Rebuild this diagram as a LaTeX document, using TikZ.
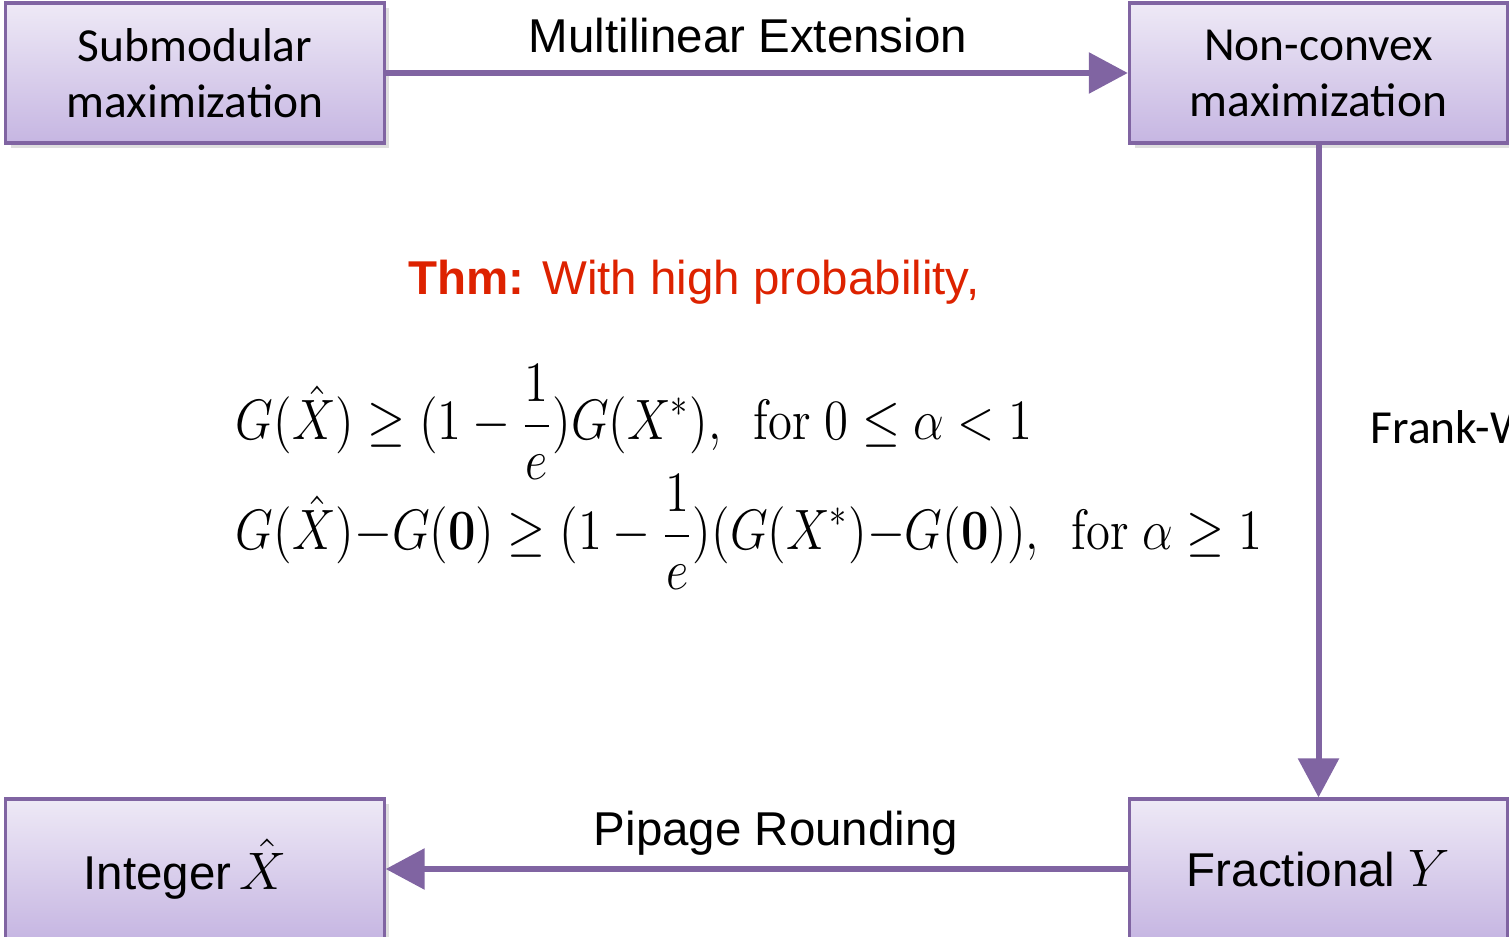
\RequirePackage{fix-cm}
\documentclass[tikz,border=0pt]{standalone}
\usepackage[no-math]{fontspec}
\usepackage{amsmath}
\usepackage{graphicx}
\setmainfont{Liberation Sans}
\newfontfamily\boxfont{Carlito}
\usetikzlibrary{arrows.meta,shadows,positioning}
\definecolor{flowpurple}{RGB}{128,100,162}
\definecolor{boxtop}{RGB}{238,233,246}
\definecolor{boxbottom}{RGB}{198,182,226}
\definecolor{thmred}{RGB}{221,34,0}
\newcommand{\squeezed}[1]{\scalebox{0.857}[1]{#1}}
\tikzset{
    stage/.style={
        draw=flowpurple, line width=0.9pt,
        top color=boxtop, bottom color=boxbottom,
        minimum width=3.78cm, minimum height=1.40cm,
        inner sep=0pt, align=center,
        drop shadow={shadow xshift=1.5pt, shadow yshift=-1.5pt, opacity=0.25},
        font=\fontsize{13.5}{15.9}\selectfont
    },
    stage calibri/.style={
        font=\boxfont\fontsize{13.5}{15.9}\selectfont
    },
    flow/.style={
        draw=flowpurple, line width=1.7pt,
        -{Triangle[length=0.39cm,width=0.40cm]}
    },
    flowlabel/.style={
        inner sep=0pt, font=\fontsize{13.5}{15.9}\selectfont
    },
    bound/.style={
        inner sep=0pt, anchor=base west, font=\fontsize{16.2}{19}\selectfont
    }
}

\begin{document}
\begin{tikzpicture}[x=0.01cm, y=-0.01cm]
\useasboundingbox (0,0) rectangle (1509,937);
\clip (0,0) rectangle (1509,937);
% the four stages
\node[stage, stage calibri] (submod) at (195,73) {Submodular\\maximization};
\node[stage, stage calibri] (nonconvex) at (1318.5,73) {Non-convex\\maximization};
\node[stage] (fractional) at (1318.5,869) {Fractional {\fontsize{15}{18}\selectfont$Y$}};
\node[stage] (integer) at (195,869) {Integer\hspace{-0.05cm} {\fontsize{15}{18}\selectfont$\hat{X}$}\hspace{0.2cm}};
% connectors
\draw[flow] (submod.east) -- (nonconvex.west);
\draw[flow] (nonconvex.south) -- (fractional.north);
\draw[flow] (fractional.west) -- (integer.east);
\node[flowlabel, anchor=base] (mle) at (748,53) {Multilinear Extension};
\node[flowlabel, anchor=base] (pipage) at (776,845) {Pipage Rounding};
\node[flowlabel, stage calibri, anchor=base west] (fw) at (1370,444) {Frank-W};
% theorem
\node[flowlabel, anchor=base west, text=thmred] (thm) at (408,295)
    {\textbf{Thm:} With high probability,};
\node[bound] (bound1) at (235,440)
    {\squeezed{$\displaystyle G(\hat{X}) \geq (1-\frac{1}{e})G(X^*),\enspace \mathrm{for}\ 0\leq\alpha<1$}};
\node[bound] (bound2) at (235,550)
    {\squeezed{$\displaystyle G(\hat{X}){-}G(\mathbf{0}) \geq (1-\frac{1}{e})(G(X^*){-}G(\mathbf{0})),\enspace \mathrm{for}\ \alpha\geq 1$}};
\end{tikzpicture}
\end{document}
